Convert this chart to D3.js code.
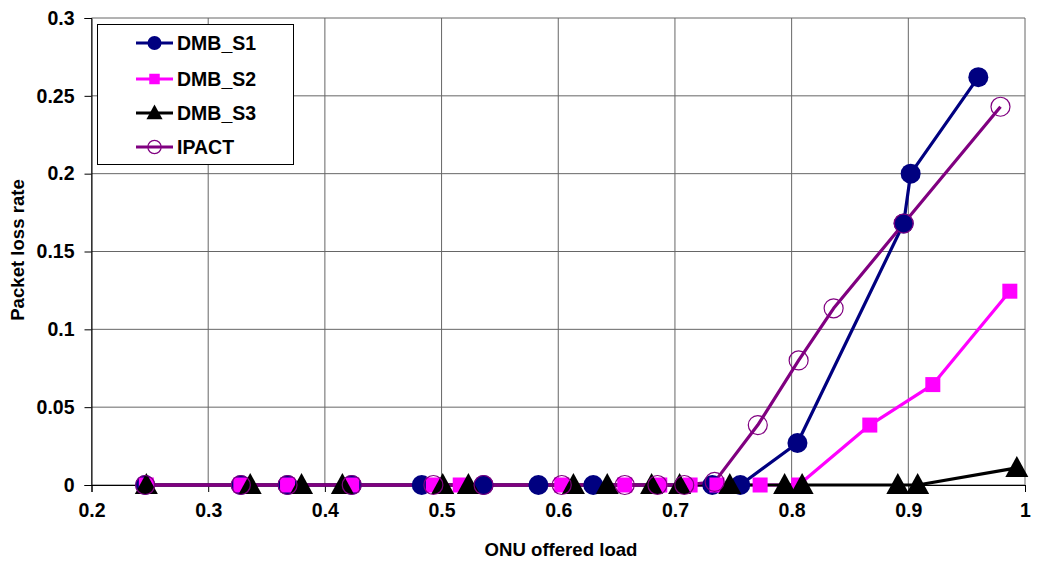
<!DOCTYPE html>
<html><head><meta charset="utf-8">
<script src="https://cdn.jsdelivr.net/npm/d3@7/dist/d3.min.js"></script>
<style>body{margin:0;background:#fff}svg{display:block}text{font-family:"Liberation Sans",Arial,sans-serif;font-weight:bold}</style>
</head><body><svg id="c" width="1038" height="564"></svg>
<script>
const xTicks = [0.2,0.3,0.4,0.5,0.6,0.7,0.8,0.9,1];
const yTicks = [0,0.05,0.1,0.15,0.2,0.25,0.3];
const seriesNames = ["DMB_S1","DMB_S2","DMB_S3","IPACT"];
const s1X = [0.246,0.328,0.368,0.423,0.483,0.536,0.583,0.630,0.732,0.756,0.805,0.896,0.902,0.960];
const s1Y = [0,0,0,0,0,0,0,0,0,0,0.027,0.168,0.200,0.262];
const s2X = [0.247,0.328,0.368,0.423,0.493,0.516,0.603,0.657,0.687,0.713,0.736,0.773,0.806,0.867,0.921,0.987];
const s2Y = [0,0,0,0,0,0,0,0,0,0,0,0,0,0.0385,0.0645,0.1245];
const s3X = [0.247,0.336,0.380,0.415,0.501,0.523,0.613,0.642,0.680,0.704,0.747,0.794,0.809,0.891,0.908,0.993];
const s3Y = [0,0,0,0,0,0,0,0,0,0,0,0,0,0,0,0.011];
const ipX = [0.246,0.328,0.368,0.423,0.493,0.536,0.603,0.657,0.685,0.708,0.734,0.771,0.806,0.836,0.896,0.979];
const ipY = [0,0,0,0,0,0,0,0,0,0,0.002,0.0385,0.080,0.1135,0.168,0.243];

const colors = ["#000080","#FF00FF","#000000","#800080"];
const shapes = ["circle","square","triangle","open"];

const svg = d3.select("#c");
const x = d3.scaleLinear().domain([0.2,1]).range([91.5,1025]);
const y = d3.scaleLinear().domain([0,0.3]).range([485,18]);

// gridlines
svg.append("g").selectAll("line.v").data(xTicks).join("line")
  .attr("x1",d=>x(d)).attr("x2",d=>x(d)).attr("y1",y(0.3)).attr("y2",y(0))
  .attr("stroke","#666").attr("stroke-width",1);
svg.append("g").selectAll("line.h").data(yTicks).join("line")
  .attr("x1",x(0.2)).attr("x2",x(1)).attr("y1",d=>y(d)).attr("y2",d=>y(d))
  .attr("stroke","#666").attr("stroke-width",1);

// axes
const xAxis = svg.append("g").attr("transform",`translate(0,${y(0)})`)
  .call(d3.axisBottom(x).tickValues(xTicks).tickFormat(d=>String(+d.toFixed(1))).tickSize(7).tickPadding(18));
const yAxis = svg.append("g").attr("transform",`translate(${x(0.2)},0)`)
  .call(d3.axisLeft(y).tickValues(yTicks).tickFormat(d=>String(+d.toFixed(2))).tickSize(7).tickPadding(10));
[xAxis,yAxis].forEach(a=>{
  a.select(".domain").attr("stroke","#000").attr("stroke-width",1);
  a.selectAll(".tick line").attr("stroke","#000");
  a.selectAll("text").attr("font-size",19.5).attr("fill","#000").style("font-family","Liberation Sans, Arial, sans-serif").style("font-weight","bold");
});
xAxis.selectAll("text").attr("dy","0.35em");

svg.append("text").attr("x",561).attr("y",556).attr("text-anchor","middle").attr("font-size",18.6).text("ONU offered load");
svg.append("text").attr("transform","translate(24,250) rotate(-90)").attr("text-anchor","middle").attr("font-size",18.6).text("Packet loss rate");

const data = [
  s1X.map((v,i)=>[v,s1Y[i]]),
  s2X.map((v,i)=>[v,s2Y[i]]),
  s3X.map((v,i)=>[v,s3Y[i]]),
  ipX.map((v,i)=>[v,ipY[i]])
];
const line = d3.line().x(d=>x(d[0])).y(d=>y(d[1]));
const plot = svg.append("g");
data.forEach((s,k)=>{
  plot.append("path").attr("d",line(s)).attr("fill","none").attr("stroke",colors[k]).attr("stroke-width",3.2).attr("stroke-linejoin","round");
});
function marker(g,shape,col,cx,cy,scale){
  if(shape==="circle") g.append("circle").attr("cx",cx).attr("cy",cy).attr("r",10*scale).attr("fill",col);
  else if(shape==="square") g.append("rect").attr("x",cx-7.5*scale).attr("y",cy-7.5*scale).attr("width",15*scale).attr("height",15*scale).attr("fill",col);
  else if(shape==="triangle") g.append("path").attr("d",`M${cx},${cy-12*scale}L${cx+11.5*scale},${cy+9*scale}L${cx-11.5*scale},${cy+9*scale}Z`).attr("fill",col);
  else g.append("circle").attr("cx",cx).attr("cy",cy).attr("r",9.5*scale).attr("fill","none").attr("stroke",col).attr("stroke-width",1.2);
}
data.forEach((s,k)=>{
  s.forEach(d=>marker(plot,shapes[k],colors[k],x(d[0]),y(d[1]),1));
});

// legend
const lg = svg.append("g");
lg.append("rect").attr("x",97.5).attr("y",24.5).attr("width",196).attr("height",140).attr("fill","#fff").attr("stroke","#000").attr("stroke-width",1);
const rowsY = [43,79,113,147];
seriesNames.forEach((n,k)=>{
  lg.append("line").attr("x1",136).attr("x2",173).attr("y1",rowsY[k]).attr("y2",rowsY[k]).attr("stroke",colors[k]).attr("stroke-width",3.2);
  marker(lg,shapes[k],colors[k],154.5,rowsY[k],0.7);
  lg.append("text").attr("x",177).attr("y",rowsY[k]+7).attr("font-size",19.5).text(n);
});
</script></body></html>
